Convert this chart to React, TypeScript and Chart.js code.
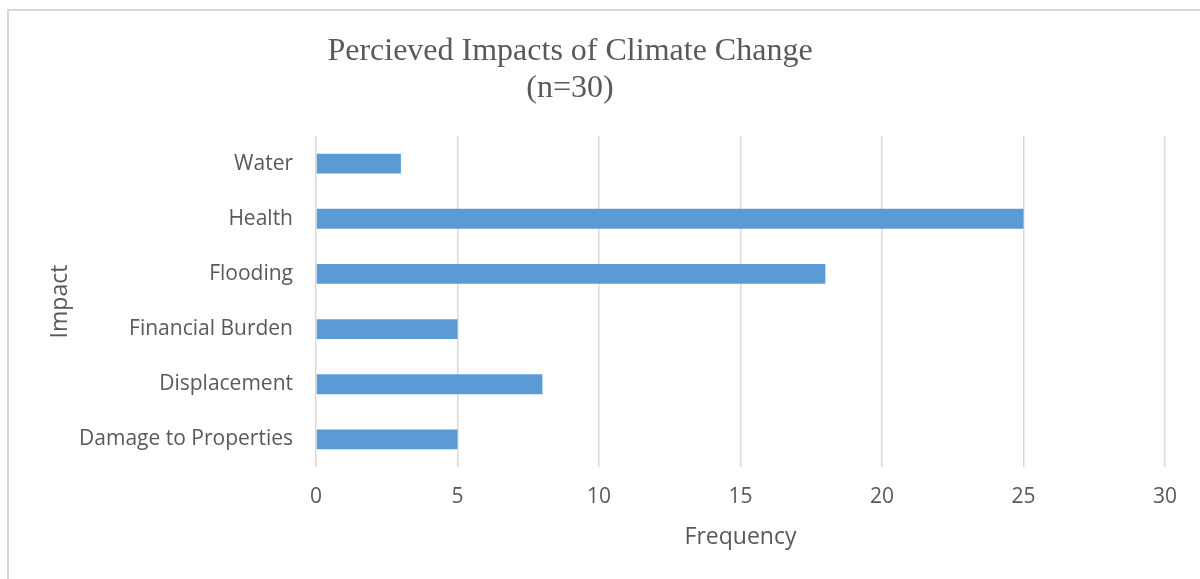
import React, { useEffect, useRef } from "react";
import { Chart, registerables } from "chart.js";

Chart.register(...registerables);

const categories = ["Water", "Health", "Flooding", "Financial Burden", "Displacement", "Damage to Properties"];
const frequencies = [3, 25, 18, 5, 8, 5];
const titleLines = ["Percieved Impacts of Climate Change", "(n=30)"];
const xAxisTitle = "Frequency";
const yAxisTitle = "Impact";

const TEXT = "#595959";
const SANS = "'Open Sans', sans-serif";

const customTitle = {
  id: "customTitle",
  afterDraw(chart: any) {
    const ctx = chart.ctx;
    ctx.save();
    ctx.font = "32px 'Liberation Serif', 'Times New Roman', serif";
    ctx.fillStyle = TEXT;
    ctx.textAlign = "center";
    ctx.textBaseline = "alphabetic";
    titleLines.forEach((t, i) => ctx.fillText(t, 570, 60 + i * 37));
    ctx.restore();
  },
};

export default function App() {
  const ref = useRef<HTMLCanvasElement | null>(null);
  useEffect(() => {
    document.body.style.margin = "0";
    const chart = new Chart(ref.current as HTMLCanvasElement, {
      type: "bar",
      data: {
        labels: categories,
        datasets: [
          {
            data: frequencies,
            backgroundColor: "#5B9BD5",
            borderWidth: 0,
            barPercentage: 0.36,
            categoryPercentage: 1,
          },
        ],
      },
      options: {
        indexAxis: "y",
        animation: false,
        responsive: false,
        maintainAspectRatio: false,
        layout: { padding: { top: 136, right: 35, bottom: 0, left: 0 } },
        plugins: { legend: { display: false }, title: { display: false }, tooltip: { enabled: false } },
        scales: {
          x: {
            min: 0,
            max: 30,
            ticks: { stepSize: 5, color: TEXT, font: { family: SANS, size: 21 }, padding: 17 },
            grid: { color: "#d9d9d9", lineWidth: 1.5, drawTicks: false },
            border: { display: false },
            title: { display: true, text: xAxisTitle, color: TEXT, font: { family: SANS, size: 23 }, padding: { top: 0, bottom: 28 } },
            afterFit(scale: any) { scale.height = 112; },
          },
          y: {
            ticks: { color: TEXT, font: { family: SANS, size: 21 }, padding: 23 },
            grid: { display: false, drawTicks: false },
            border: { display: false },
            title: { display: true, text: yAxisTitle, color: TEXT, font: { family: SANS, size: 23 }, padding: { top: 47, bottom: 0 } },
            afterFit(scale: any) { scale.width = 316; },
          },
        },
      },
      plugins: [customTitle],
    });
    return () => chart.destroy();
  }, []);
  return (
    <div style={{ position: "relative", width: 1200, height: 579, overflow: "hidden", background: "#fff" }}>
      <div style={{ position: "absolute", left: 7, top: 9, width: 1400, height: 800, border: "2px solid #d9d9d9", boxSizing: "border-box" }} />
      <canvas ref={ref} width={1200} height={579} style={{ position: "absolute", left: 0, top: 0 }} />
    </div>
  );
}
